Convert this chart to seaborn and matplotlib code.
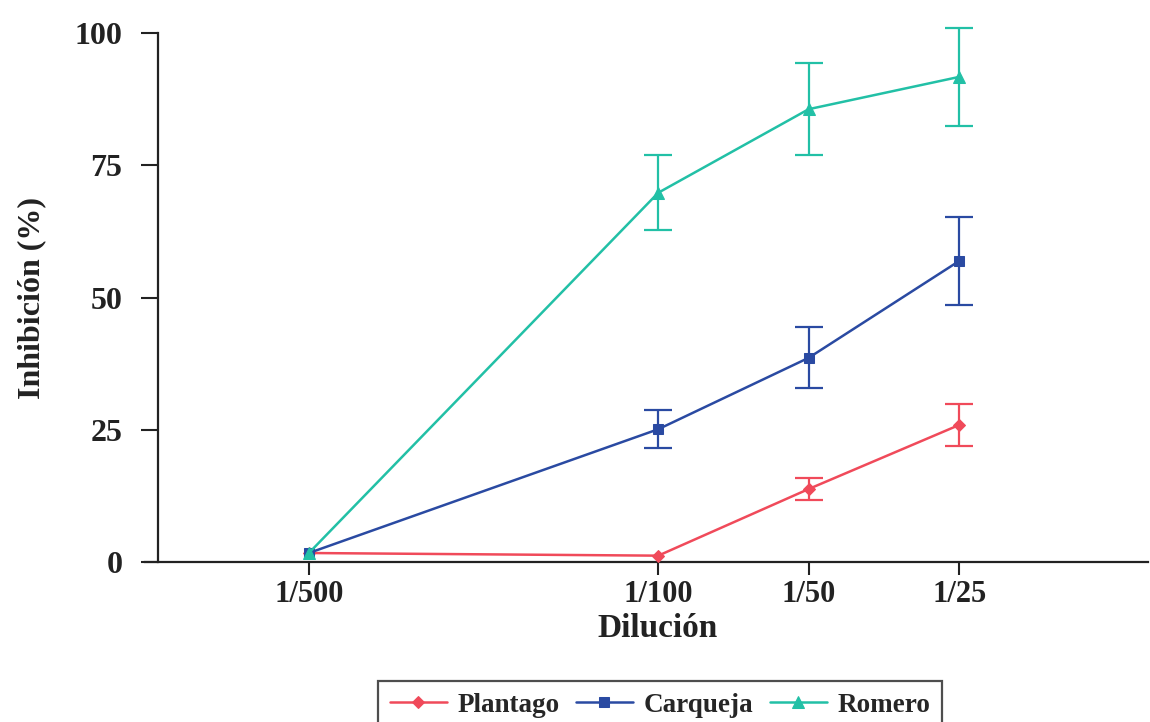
import matplotlib
matplotlib.use("Agg")
import matplotlib.pyplot as plt
import seaborn as sns
import numpy as np
import pandas as pd

# ---- data ----
dilution_labels = ["1/500", "1/100", "1/50", "1/25"]
dilution_values = [1/500, 1/100, 1/50, 1/25]

plantago = [1.7, 1.2, 13.8, 25.9]
plantago_err = [0.0, 0.0, 2.0, 3.9]

carqueja = [1.7, 25.1, 38.6, 56.9]
carqueja_err = [0.0, 3.6, 5.8, 8.4]

romero = [1.7, 69.8, 85.6, 91.7]
romero_err = [0.0, 7.1, 8.7, 9.2]

series_names = ["Plantago", "Carqueja", "Romero"]
y_ticks = [0, 25, 50, 75, 100]

sns.set_theme(style="white")
plt.rcParams["font.family"] = ["Liberation Serif", "DejaVu Serif"]
plt.rcParams["font.weight"] = "bold"

colors = {"Plantago": "#f04a5a", "Carqueja": "#2a4aa2", "Romero": "#22c0a6"}
markers = {"Plantago": "D", "Carqueja": "s", "Romero": "^"}
msizes = {"Plantago": 6.5, "Carqueja": 7, "Romero": 8}

values = {"Plantago": plantago, "Carqueja": carqueja, "Romero": romero}
errors = {"Plantago": plantago_err, "Carqueja": carqueja_err, "Romero": romero_err}

rows = []
for name in series_names:
    for d, v, e in zip(dilution_values, values[name], errors[name]):
        rows.append({"Dilución": d, "Inhibición": v, "Error": e, "Serie": name})
df = pd.DataFrame(rows)

fig = plt.figure(figsize=(11.5, 7.22), dpi=100)
ax = fig.add_axes([0.1261, 0.2216, 0.8722, 0.7327])

for name in series_names:
    sub = df[df["Serie"] == name]
    eb = sub[sub["Error"] > 0]
    ebc = ax.errorbar(eb["Dilución"], eb["Inhibición"], yerr=eb["Error"], fmt="none",
                      ecolor=colors[name], elinewidth=1.6, capsize=10, capthick=1.6, zorder=2)
    for art in ebc.lines[1] + ebc.lines[2]:
        art.set_clip_on(False)
    for art in ebc.lines[2]:
        art.set_clip_on(False)
    sns.lineplot(data=sub, x="Dilución", y="Inhibición", ax=ax, color=colors[name],
                 marker=markers[name], markersize=msizes[name], markeredgecolor=colors[name],
                 linewidth=1.8, label=name, zorder=3)

ax.set_xscale("log")
ax.set_xlim(0.00094, 0.0955)
ax.set_ylim(0, 100)
ax.set_xticks(dilution_values)
ax.set_xticklabels(dilution_labels)
ax.minorticks_off()
ax.set_yticks(y_ticks)
ax.set_yticklabels([str(t) for t in y_ticks])

for lab in ax.get_xticklabels() + ax.get_yticklabels():
    lab.set_fontweight("bold")
    lab.set_color("#222222")
ax.tick_params(axis="x", labelsize=22, length=9, width=1.5, direction="out",
               bottom=True, pad=4, colors="#222222")
ax.tick_params(axis="y", labelsize=23, length=12, width=1.5, direction="out",
               left=True, pad=14, colors="#222222")

ax.spines["top"].set_visible(False)
ax.spines["right"].set_visible(False)
ax.spines["left"].set_position(("data", 0.001))
for s in ["left", "bottom"]:
    ax.spines[s].set_linewidth(1.6)
    ax.spines[s].set_color("#222222")

ax.set_xlabel("Dilución", fontsize=24, fontweight="bold", color="#222222")
ax.set_ylabel("Inhibición (%)", fontsize=23, fontweight="bold", labelpad=20, color="#222222")
ax.xaxis.set_label_coords(0.511, -0.097)

ax.get_legend().remove()
handles, labels = ax.get_legend_handles_labels()
leg = fig.legend(handles, labels, loc="lower center", bbox_to_anchor=(0.574, -0.03),
                 ncol=3, frameon=True, fancybox=False, edgecolor="#222222",
                 prop={"size": 19.5, "weight": "bold", "family": "Liberation Serif"},
                 handlelength=2.1, handletextpad=0.4, columnspacing=0.6,
                 borderpad=0.45)
leg.get_frame().set_linewidth(1.6)

fig.savefig("out.png", dpi=100, facecolor="white")
